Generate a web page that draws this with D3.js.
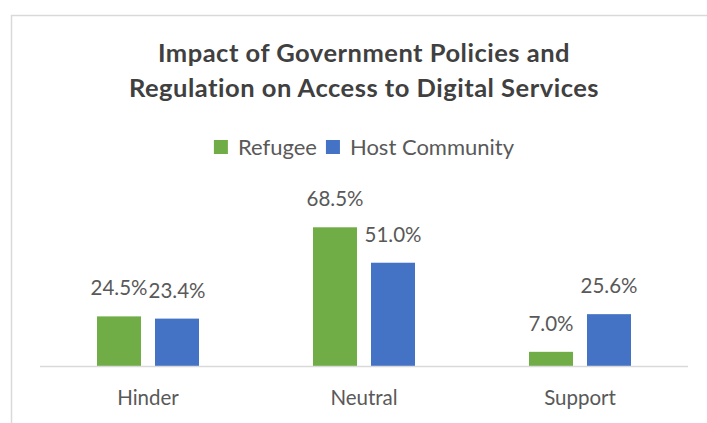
<!DOCTYPE html>
<html>
<head>
<meta charset="utf-8">
<script src="https://cdn.jsdelivr.net/npm/d3@7"></script>
<style>
  html, body { margin: 0; padding: 0; background: #ffffff; }
  svg { display: block; }
  text { font-family: Lato, "Open Sans", sans-serif; }
</style>
</head>
<body>
<svg id="chart" width="707" height="423"></svg>
<script>
// Chart data
const categories = ["Hinder", "Neutral", "Support"];
const seriesNames = ["Refugee", "Host Community"];
const refugeeValues = [24.5, 68.5, 7.0];
const hostValues = [23.4, 51.0, 25.6];
const titleLines = ["Impact of Government Policies and", "Regulation on Access to Digital Services"];

const seriesColors = ["#70AD47", "#4472C4"];
const seriesValues = [refugeeValues, hostValues];

const W = 707, H = 423;
const svg = d3.select("#chart");

// Chart frame (top and left edges)
svg.append("path")
  .attr("d", `M11.5,${H} V15.5 H${W}`)
  .attr("fill", "none")
  .attr("stroke", "#d9d9d9")
  .attr("stroke-width", 1.5);

// Title
const centerX = 364;
svg.append("text")
  .attr("text-anchor", "middle")
  .attr("fill", "#404040")
  .attr("font-size", 25.5)
  .attr("font-weight", 700)
  .attr("letter-spacing", 0.5)
  .selectAll("tspan")
  .data(titleLines)
  .join("tspan")
  .attr("x", centerX)
  .attr("y", (d, i) => 62 + i * 35)
  .text(d => d);

// Scales
const plot = { left: 40, right: 688, top: 204, bottom: 366 };
const x0 = d3.scaleBand()
  .domain(categories)
  .range([plot.left, plot.right])
  .paddingInner(114 / 216)
  .paddingOuter(57 / 216);
const x1 = d3.scaleBand()
  .domain(seriesNames)
  .range([0, x0.bandwidth()])
  .paddingInner(14 / 58)
  .paddingOuter(0);
const y = d3.scaleLinear()
  .domain([0, 80])
  .range([plot.bottom, plot.top]);

// Rows for the bars
const rows = [];
categories.forEach((c, ci) => {
  seriesNames.forEach((s, si) => {
    rows.push({ category: c, series: s, value: seriesValues[si][ci], color: seriesColors[si] });
  });
});

// Bars
svg.append("g")
  .selectAll("rect")
  .data(rows)
  .join("rect")
  .attr("x", d => x0(d.category) + x1(d.series))
  .attr("y", d => y(d.value))
  .attr("width", x1.bandwidth())
  .attr("height", d => y(0) - y(d.value))
  .attr("fill", d => d.color);

// Category axis line and labels
const xAxis = svg.append("g")
  .attr("transform", `translate(0,${plot.bottom})`)
  .call(d3.axisBottom(x0).tickSize(0).tickPadding(0).tickSizeOuter(0));
xAxis.select(".domain")
  .attr("stroke", "#d9d9d9")
  .attr("stroke-width", 1.5)
  .attr("d", `M${plot.left},0.5H${plot.right}`);
xAxis.selectAll(".tick text")
  .attr("font-family", "Lato, 'Open Sans', sans-serif")
  .attr("font-size", 20.5)
  .attr("fill", "#595959")
  .attr("dy", 0)
  .attr("y", 39);

// Value labels
svg.append("g")
  .selectAll("text")
  .data(rows)
  .join("text")
  .attr("x", d => x0(d.category) + x1(d.series) + x1.bandwidth() / 2)
  .attr("y", d => y(d.value) - 21)
  .attr("text-anchor", "middle")
  .attr("font-size", 20.5)
  .attr("fill", "#595959")
  .text(d => d.value.toFixed(1) + "%");

// Legend, centred under the title
const legend = svg.append("g");
const sq = 14, gapText = 10, gapItem = 9;
let cursor = 0;
seriesNames.forEach((name, i) => {
  const g = legend.append("g");
  g.append("rect")
    .attr("x", 0).attr("y", 140)
    .attr("width", sq).attr("height", sq)
    .attr("fill", seriesColors[i]);
  const t = g.append("text")
    .attr("x", sq + gapText).attr("y", 155)
    .attr("font-size", 22)
    .attr("fill", "#595959")
    .text(name);
  const w = sq + gapText + t.node().getComputedTextLength();
  g.attr("transform", `translate(${cursor},0)`);
  cursor += w + gapItem;
});
const legendWidth = cursor - gapItem;
legend.attr("transform", `translate(${centerX - legendWidth / 2},0)`);
</script>
</body>
</html>
